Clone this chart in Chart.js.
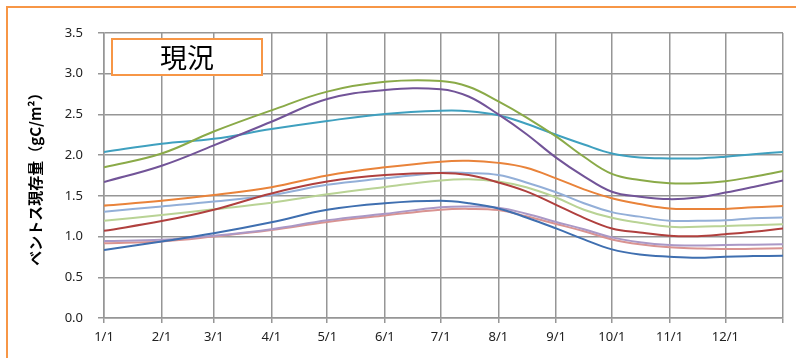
<!DOCTYPE html>
<html>
<head>
<meta charset="utf-8">
<script src="https://cdn.jsdelivr.net/npm/chart.js@4/dist/chart.umd.min.js"></script>
<style>
  html, body { margin: 0; padding: 0; background: #fff; overflow: hidden; }
  #wrap { position: relative; width: 796px; height: 358px; }
  #frame { position: absolute; left: 6px; top: 6px; width: 900px; height: 500px; border: 2px solid #F79646; box-sizing: border-box; }
  #c { position: absolute; left: 0; top: 0; }
</style>
</head>
<body>
<div id="wrap">
  <div id="frame"></div>
  <canvas id="c" width="796" height="358"></canvas>
</div>
<script>
// day-of-year sample positions (0 = 1/1)
const days = [0, 31, 59, 90, 120, 151, 181, 196, 212, 227, 243, 258, 273, 288, 304, 319, 334, 349, 365];
// x tick positions and labels (month starts)
const tickDays = [0, 31, 59, 90, 120, 151, 181, 212, 243, 273, 304, 334, 365];
const tickLabels = ['1/1', '2/1', '3/1', '4/1', '5/1', '6/1', '7/1', '8/1', '9/1', '10/1', '11/1', '12/1', ''];
const yTicks = [0, 0.5, 1.0, 1.5, 2.0, 2.5, 3.0, 3.5];

const seriesBlue        = [0.835, 0.94, 1.04, 1.175, 1.33, 1.41, 1.44, 1.41, 1.345, 1.235, 1.10, 0.965, 0.843, 0.78, 0.753, 0.74, 0.753, 0.76, 0.765];
const seriesRed         = [1.07, 1.19, 1.33, 1.53, 1.675, 1.755, 1.78, 1.755, 1.665, 1.555, 1.39, 1.23, 1.10, 1.05, 1.01, 1.005, 1.03, 1.06, 1.10];
const seriesGreen       = [1.85, 2.02, 2.29, 2.55, 2.78, 2.90, 2.91, 2.84, 2.66, 2.465, 2.23, 1.98, 1.77, 1.695, 1.655, 1.655, 1.68, 1.735, 1.805];
const seriesPurple      = [1.67, 1.87, 2.12, 2.41, 2.69, 2.80, 2.81, 2.72, 2.50, 2.26, 1.97, 1.74, 1.55, 1.49, 1.46, 1.48, 1.54, 1.61, 1.69];
const seriesTeal        = [2.04, 2.14, 2.20, 2.32, 2.42, 2.505, 2.545, 2.54, 2.49, 2.385, 2.25, 2.13, 2.02, 1.97, 1.96, 1.96, 1.98, 2.01, 2.04];
const seriesOrange      = [1.38, 1.44, 1.51, 1.605, 1.75, 1.85, 1.92, 1.93, 1.905, 1.845, 1.715, 1.58, 1.47, 1.40, 1.345, 1.34, 1.34, 1.36, 1.375];
const seriesLightBlue   = [1.305, 1.37, 1.43, 1.51, 1.635, 1.715, 1.785, 1.78, 1.755, 1.665, 1.545, 1.41, 1.30, 1.245, 1.195, 1.195, 1.20, 1.225, 1.235];
const seriesLightGreen  = [1.195, 1.265, 1.335, 1.415, 1.52, 1.61, 1.69, 1.705, 1.675, 1.605, 1.48, 1.33, 1.23, 1.17, 1.12, 1.12, 1.13, 1.14, 1.15];
const seriesLightPurple = [0.945, 0.96, 1.01, 1.09, 1.20, 1.28, 1.36, 1.37, 1.355, 1.28, 1.18, 1.09, 0.99, 0.93, 0.896, 0.89, 0.896, 0.90, 0.905];
const seriesPink        = [0.917, 0.94, 1.00, 1.08, 1.18, 1.26, 1.33, 1.34, 1.325, 1.25, 1.155, 1.065, 0.965, 0.905, 0.868, 0.855, 0.847, 0.85, 0.856];

const seriesList = [
  { data: seriesBlue,        color: '#3F6FB0' },
  { data: seriesRed,         color: '#B0403E' },
  { data: seriesGreen,       color: '#8AAA48' },
  { data: seriesPurple,      color: '#725498' },
  { data: seriesTeal,        color: '#3FA0BF' },
  { data: seriesOrange,      color: '#E9833A' },
  { data: seriesLightBlue,   color: '#93AFD8' },
  { data: seriesLightGreen,  color: '#B9D395' },
  { data: seriesLightPurple, color: '#AA98C6' },
  { data: seriesPink,        color: '#D99391' }
];

const yTitle = 'ベントス現存量（gC/m²）';
const boxLabel = '現況';

const datasets = seriesList.map(s => ({
  data: s.data.map((v, i) => ({ x: days[i], y: v })),
  borderColor: s.color,
  backgroundColor: s.color,
  borderWidth: 2,
  pointRadius: 0,
  fill: false,
  tension: 0.4
}));

const labelBox = {
  id: 'labelBox',
  afterDraw(chart) {
    const ctx = chart.ctx;
    ctx.save();
    ctx.fillStyle = '#fff';
    ctx.fillRect(112, 39, 150, 36);
    ctx.strokeStyle = '#F79646';
    ctx.lineWidth = 2;
    ctx.strokeRect(112, 39, 150, 36);
    ctx.fillStyle = '#000';
    ctx.font = '27px "Noto Sans CJK JP"';
    ctx.textAlign = 'center';
    ctx.textBaseline = 'middle';
    ctx.fillText(boxLabel, 187, 58);
    ctx.restore();
  }
};

new Chart(document.getElementById('c'), {
  type: 'line',
  data: { datasets },
  plugins: [labelBox],
  options: {
    responsive: false,
    animation: false,
    layout: { padding: { left: 0, top: 33, right: 13, bottom: 0 } },
    plugins: { legend: { display: false }, tooltip: { enabled: false } },
    scales: {
      x: {
        type: 'linear',
        min: 0,
        max: 365,
        afterFit(s) { s.height = 40; },
        afterBuildTicks(s) { s.ticks = tickDays.map(v => ({ value: v })); },
        ticks: {
          autoSkip: false,
          maxRotation: 0,
          padding: 6,
          color: '#222',
          font: { family: '"Noto Sans"', size: 13 },
          callback: (v, i) => tickLabels[i]
        },
        grid: { color: '#969696', lineWidth: 1.5, tickLength: 5, drawTicks: true },
        border: { color: '#969696', width: 1.5 }
      },
      y: {
        min: 0,
        max: 3.5,
        afterFit(s) { s.width = 104; },
        afterBuildTicks(s) { s.ticks = yTicks.map(v => ({ value: v })); },
        ticks: {
          padding: 15,
          color: '#222',
          font: { family: '"Noto Sans"', size: 13 },
          callback: v => Number(v).toFixed(1)
        },
        grid: { color: '#969696', lineWidth: 1.5, tickLength: 6, drawTicks: true },
        border: { color: '#969696', width: 1.5 },
        title: {
          display: true,
          text: yTitle,
          color: '#000',
          font: { family: '"Noto Sans CJK JP"', size: 15, weight: 'bold' },
          padding: { top: 26, bottom: 0 }
        }
      }
    }
  }
});
</script>
</body>
</html>
